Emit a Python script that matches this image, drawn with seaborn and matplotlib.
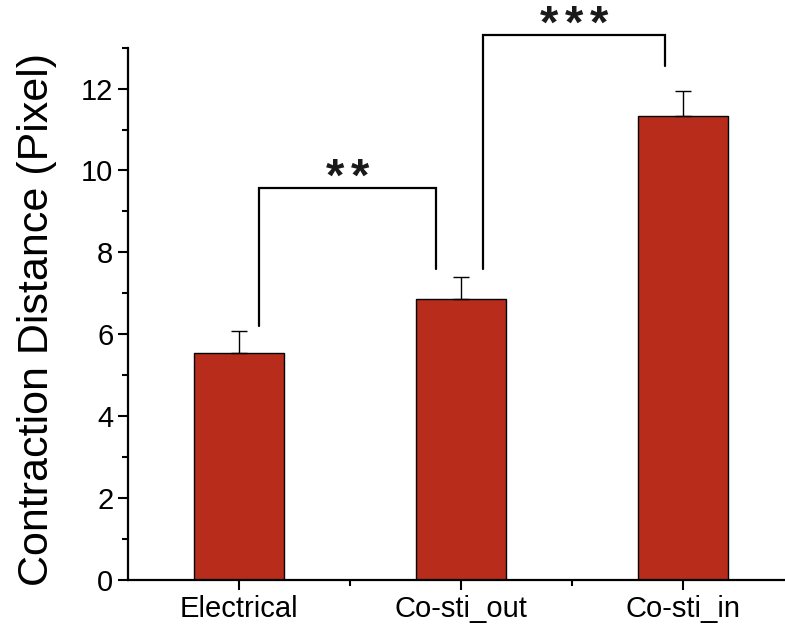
import matplotlib
matplotlib.use("Agg")
import matplotlib.pyplot as plt
from matplotlib.ticker import MultipleLocator, FixedLocator
import seaborn as sns
import pandas as pd

categories = ["Electrical", "Co-sti_out", "Co-sti_in"]
means = [5.55, 6.85, 11.34]
errors = [0.54, 0.56, 0.61]

# significance brackets: (x_left, y_left_bottom, x_right, y_right_bottom, y_top, n_stars)
brackets = [
    (0.09, 6.19, 0.887, 7.60, 9.56, 2),
    (1.10, 7.60, 1.92, 12.54, 13.30, 3),
]

sns.set_theme(style="ticks")
plt.rcParams["font.family"] = ["Liberation Sans", "DejaVu Sans"]
plt.rcParams["text.color"] = "black"
plt.rcParams["axes.labelcolor"] = "black"
plt.rcParams["xtick.color"] = "black"
plt.rcParams["ytick.color"] = "black"

fig = plt.figure(figsize=(7.85, 6.3), dpi=100)
ax = fig.add_axes([0.163, 0.0794, 0.837, 0.845])

df = pd.DataFrame({"cat": categories, "val": means})
sns.barplot(data=df, x="cat", y="val", ax=ax, width=0.405, color="#B82C1C",
            saturation=1, edgecolor="black", linewidth=1.0)
ax.errorbar(range(len(categories)), means, yerr=[[0] * 3, errors], fmt="none",
            ecolor="black", elinewidth=1.0, capsize=6, capthick=1.0)

star_step = 0.112
for xl, yl, xr, yr, yt, n in brackets:
    ax.plot([xl, xl, xr, xr], [yl, yt, yt, yr], color="black", lw=1.6,
            clip_on=False, solid_joinstyle="miter")
    xm = (xl + xr) / 2
    for k in range(n):
        xs = xm + (k - (n - 1) / 2) * star_step
        ax.text(xs, yt - 0.05, "*", ha="center", va="baseline",
                fontsize=34, fontweight="bold", clip_on=False, color="#1a1a1a")

ax.set_xlim(-0.5, 2.46)
ax.set_ylim(0, 13)
ax.yaxis.set_major_locator(MultipleLocator(2))
ax.yaxis.set_minor_locator(MultipleLocator(1))
ax.xaxis.set_minor_locator(FixedLocator([0.5, 1.5]))
ax.set_xlabel("")
ax.set_ylabel("Contraction Distance (Pixel)", fontsize=31)
ax.yaxis.set_label_coords(-0.108, 0.49)
ax.tick_params(axis="both", which="major", direction="out", length=7, width=1.5,
               labelsize=21, color="black", labelcolor="black")
ax.tick_params(axis="both", which="minor", direction="out", length=4, width=1.5,
               color="black")
sns.despine(ax=ax)
for s in ["left", "bottom"]:
    ax.spines[s].set_linewidth(1.6)
    ax.spines[s].set_color("black")

fig.savefig("out.png", dpi=100)
